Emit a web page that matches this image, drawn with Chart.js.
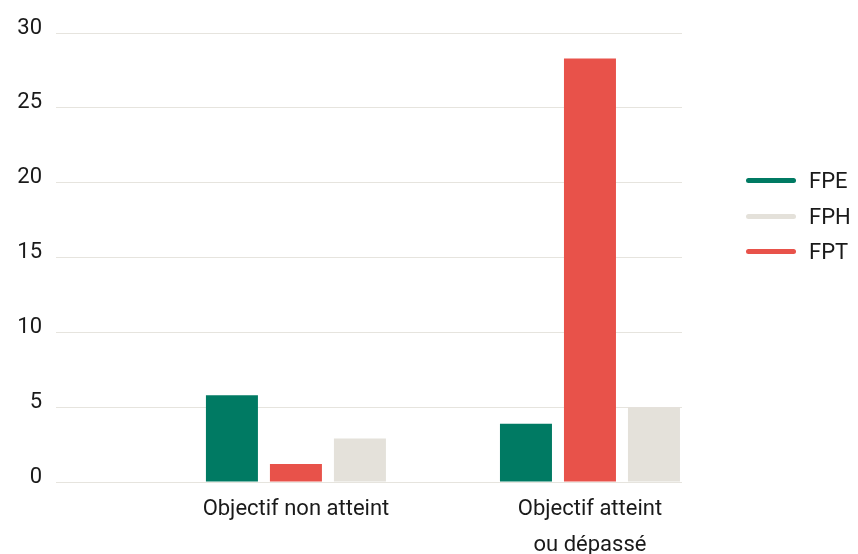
<!DOCTYPE html>
<html>
<head>
<meta charset="utf-8">
<script src="https://cdn.jsdelivr.net/npm/chart.js@4"></script>
<style>
  body { margin: 0; background: #fff; }
  #wrap { position: relative; width: 858px; height: 554px; }
  #legend { position: absolute; left: 746px; top: 163px; font-family: Roboto, sans-serif; font-size: 22px; color: #1a1a1a; }
  #legend div { display: flex; align-items: center; height: 35.6px; }
  #legend span.mark { display: inline-block; width: 50px; height: 5px; border-radius: 3px; margin-right: 13px; }
</style>
</head>
<body>
<div id="wrap">
  <canvas id="chart" width="858" height="554"></canvas>
  <div id="legend"></div>
</div>
<script>
// Objectif atteint ou non, par versant
const categories = ['Objectif non atteint', ['Objectif atteint', 'ou dépassé']];
const fpe = [5.8, 3.9];
const fpt = [1.2, 28.3];
const fph = [2.9, 5.0];
const yTicks = [0, 5, 10, 15, 20, 25, 30];

const green = '#007A63';
const red = '#E8524A';
const beige = '#E4E1DA';

// bars sit on a linear x scale so the groups can be placed like the original
const toPoints = vals => vals.map((v, i) => ({ x: i, y: v }));

const ctx = document.getElementById('chart').getContext('2d');
const chart = new Chart(ctx, {
    type: 'bar',
    data: {
        datasets: [
            { label: 'FPE', data: toPoints(fpe), backgroundColor: green },
            { label: 'FPT', data: toPoints(fpt), backgroundColor: red },
            { label: 'FPH', data: toPoints(fph), backgroundColor: beige }
        ]
    },
    options: {
        responsive: false,
        animation: false,
        categoryPercentage: 0.653,
        barPercentage: 0.8125,
        layout: { padding: { top: 33, right: 176, left: 0, bottom: 0 } },
        plugins: {
            legend: { display: false },
            tooltip: { enabled: false }
        },
        scales: {
            x: {
                type: 'linear',
                offset: false,
                min: -0.816,
                max: 1.313,
                afterBuildTicks: s => { s.ticks = categories.map((c, i) => ({ value: i })); },
                afterFit: s => { s.height = 72; },
                grid: { display: false, drawTicks: false },
                border: { display: false },
                ticks: {
                    callback: (v, i) => categories[i],
                    maxRotation: 0,
                    autoSkip: false,
                    padding: 9,
                    color: '#1a1a1a',
                    font: { family: 'Roboto', size: 22, lineHeight: 1.64 }
                }
            },
            y: {
                min: 0,
                max: 30,
                afterBuildTicks: s => { s.ticks = yTicks.map(v => ({ value: v })); },
                afterFit: s => { s.width = 56; },
                border: { display: false },
                grid: { color: '#E6E4DE', lineWidth: 1, drawTicks: false },
                ticks: {
                    padding: 14,
                    labelOffset: -5,
                    color: '#1a1a1a',
                    font: { family: 'Roboto', size: 22 }
                }
            }
        }
    }
});

// legend in the original order FPE, FPH, FPT
const legendOrder = ['FPE', 'FPH', 'FPT'];
const legendEl = document.getElementById('legend');
legendOrder.forEach(name => {
    const ds = chart.data.datasets.find(d => d.label === name);
    const row = document.createElement('div');
    row.innerHTML = '<span class="mark" style="background:' + ds.backgroundColor + '"></span>' + name;
    legendEl.appendChild(row);
});
</script>
</body>
</html>
